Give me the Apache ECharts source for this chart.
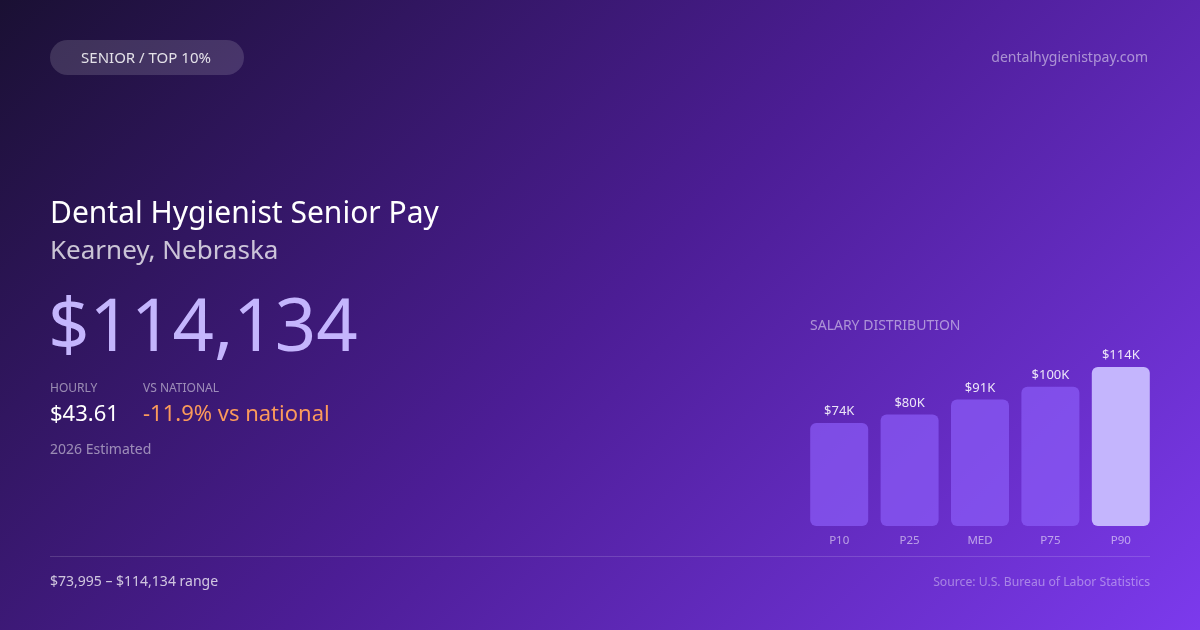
<!DOCTYPE html>
<html>
<head>
<meta charset="utf-8">
<script src="https://cdn.jsdelivr.net/npm/echarts@6/dist/echarts.min.js"></script>
<style>
html,body{margin:0;padding:0;width:1200px;height:630px;overflow:hidden;background:#1a1033;}
#chart{width:1200px;height:630px;}
</style>
</head>
<body>
<div id="chart"></div>
<script>
var categories = ['P10', 'P25', 'MED', 'P75', 'P90'];
var salaries = [73995, 80100, 90800, 99900, 114134];
var badgeText = 'SENIOR / TOP 10%';
var siteText = 'dentalhygienistpay.com';
var titleText = 'Dental Hygienist Senior Pay';
var locationText = 'Kearney, Nebraska';
var headlineValue = '$114,134';
var hourlyValue = '$43.61';
var nationalDiff = '-11.9% vs national';
var yearNote = '2026 Estimated';
var rangeText = '$73,995 \u2013 $114,134 range';
var sourceText = 'Source: U.S. Bureau of Labor Statistics';

var FONT = '"Noto Sans", "Open Sans", sans-serif';
var chart = echarts.init(document.getElementById('chart'), null, {renderer: 'canvas'});

function txt(text, x, y, size, fill, align, weight) {
  return {
    type: 'text', silent: true,
    style: {
      text: text, x: x, y: y + 1.5, fill: fill,
      fontSize: size, fontFamily: FONT, fontWeight: weight || 'normal',
      align: align || 'left', verticalAlign: 'middle'
    }
  };
}

var option = {
  backgroundColor: {
    type: 'linear', global: true,
    x: 142.5, y: -142.5, x2: 1057.5, y2: 772.5,
    colorStops: [
      {offset: 0, color: '#1a1033'},
      {offset: 0.5, color: '#4c1d95'},
      {offset: 1, color: '#7c3aed'}
    ]
  },
  animation: false,
  grid: {left: 804, width: 352, top: 367, bottom: 104, containLabel: false},
  xAxis: {
    type: 'category', data: categories,
    axisLine: {show: false}, axisTick: {show: false},
    axisLabel: {color: 'rgba(255,255,255,0.55)', fontSize: 11.5, fontFamily: FONT, margin: 8.5}
  },
  yAxis: {type: 'value', min: 0, max: 114134, show: false, splitLine: {show: false}},
  series: [{
    type: 'bar', barWidth: 58,
    data: salaries.map(function (v, i) {
      return {
        value: v,
        itemStyle: {
          color: i === salaries.length - 1 ? '#c4b5fd' : 'rgba(139,92,246,0.72)',
          borderRadius: 6
        }
      };
    }),
    label: {
      show: true, position: 'top', distance: 5,
      color: 'rgba(255,255,255,0.88)', fontSize: 13, fontFamily: FONT,
      formatter: function (p) { return '$' + Math.round(p.value / 1000) + 'K'; }
    }
  }],
  graphic: [
    {type: 'rect', silent: true, shape: {x: 50, y: 40, width: 194, height: 35, r: 17.5},
     style: {fill: 'rgba(255,255,255,0.14)'}},
    txt(badgeText, 146, 57, 15, 'rgba(255,255,255,0.85)', 'center'),
    txt(siteText, 1148, 57, 14, 'rgba(255,255,255,0.5)', 'right'),
    txt(titleText, 50, 213, 30, '#ffffff', 'left'),
    txt(locationText, 50, 250, 26, 'rgba(255,255,255,0.75)', 'left'),
    txt(headlineValue, 48, 329, 72.5, '#c4b5fd', 'left'),
    txt('HOURLY', 50, 387, 12, 'rgba(255,255,255,0.5)', 'left'),
    txt('VS NATIONAL', 143, 387, 12, 'rgba(255,255,255,0.5)', 'left'),
    txt(hourlyValue, 50, 413, 22, '#ffffff', 'left'),
    txt(nationalDiff, 143, 413, 22, '#fb9a5b', 'left'),
    txt(yearNote, 50, 449, 14, 'rgba(255,255,255,0.5)', 'left'),
    txt('SALARY DISTRIBUTION', 810, 325, 14, 'rgba(255,255,255,0.5)', 'left'),
    {type: 'rect', silent: true, shape: {x: 50, y: 556, width: 1100, height: 1},
     style: {fill: 'rgba(255,255,255,0.15)'}},
    txt(rangeText, 50, 581, 14, 'rgba(255,255,255,0.75)', 'left'),
    txt(sourceText, 1150, 581, 12.2, 'rgba(255,255,255,0.4)', 'right')
  ]
};
chart.setOption(option);
</script>
</body>
</html>
